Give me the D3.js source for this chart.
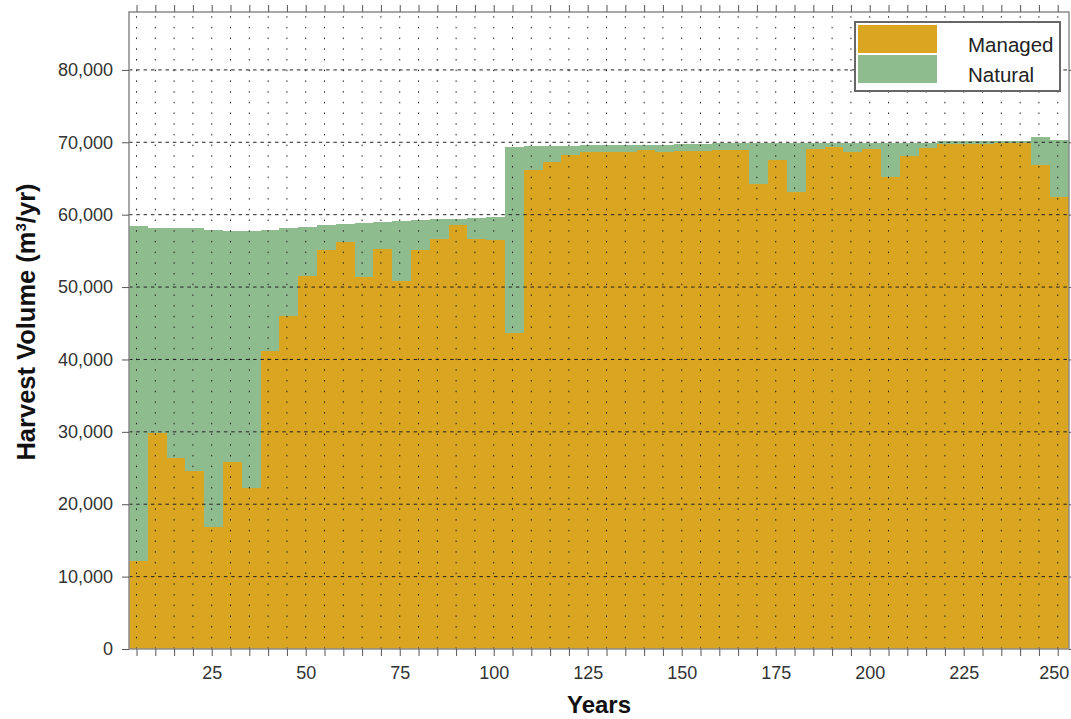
<!DOCTYPE html>
<html><head><meta charset="utf-8">
<script src="https://cdn.jsdelivr.net/npm/d3@7"></script>
<style>
body{margin:0;background:#fff}
svg{display:block}
text{font-family:"Liberation Sans",Arial,Helvetica,sans-serif}
</style>
</head><body>
<svg id="chart" width="1071" height="719"></svg>
<script>
// ---- data ----
const periodStart = [3,8,13,18,23,28,33,38,43,48,53,58,63,68,73,78,83,88,93,98,
  103,108,113,118,123,128,133,138,143,148,153,158,163,168,173,178,183,188,193,198,
  203,208,213,218,223,228,233,238,243,248];
const periodLength = 5;
const managed = [12100,29800,26400,24600,16900,25900,22200,41100,46000,51500,
  55100,56200,51400,55300,50900,55100,56700,58600,56700,56500,
  43600,66200,67300,68300,68600,68600,68700,68900,68700,68800,
  68800,68900,68900,64200,67500,63100,69100,69400,68700,69100,
  65200,68100,69200,69700,69800,69800,69900,69900,66800,62500];
const natural = [46300,28400,31700,33500,41000,31900,35600,16800,12200,6800,
  3450,2500,7500,3700,8200,4150,2650,800,2900,3200,
  25700,3250,2150,1200,1000,1000,900,750,950,1000,
  1000,950,950,5650,2350,6800,800,500,1200,800,
  4700,1850,750,500,400,400,300,300,3900,7850];
const seriesNames = ["Managed","Natural"];
const seriesColors = ["#DAA520","#8FBC8F"];
const yTickValues = [0,10000,20000,30000,40000,50000,60000,70000,80000];
const xTickLabels = [25,50,75,100,125,150,175,200,225,250];
const xDomain = [3,253];
const yDomain = [0,88000];

// ---- layout ----
const L = 129, R = 1069, T = 12, B = 649;
const svg = d3.select("#chart");
const x = d3.scaleLinear().domain(xDomain).range([L,R]);
const y = d3.scaleLinear().domain(yDomain).range([B,T]);
const color = d3.scaleOrdinal().domain(seriesNames).range(seriesColors);
const xMinor = d3.range(5, 251, 5);

const rows = periodStart.map((s,i)=>({start:s, Managed:managed[i], Natural:natural[i]}));
const stacked = d3.stack().keys(seriesNames)(rows);

// bars
svg.append("g").selectAll("g").data(stacked).join("g")
  .attr("fill", d=>color(d.key))
  .selectAll("rect").data(d=>d).join("rect")
  .attr("shape-rendering","crispEdges")
  .attr("x", d=>x(d.data.start))
  .attr("width", d=>x(d.data.start+periodLength)-x(d.data.start))
  .attr("y", d=>y(d[1]))
  .attr("height", d=>y(d[0])-y(d[1]));

// grid
const grid = svg.append("g");
grid.selectAll("line.v").data(xMinor).join("line").attr("class","v")
  .attr("x1",d=>x(d)).attr("x2",d=>x(d)).attr("y1",B).attr("y2",T)
  .attr("stroke","#222").attr("stroke-width",1).attr("stroke-dasharray","1.5,9.2");
grid.selectAll("line.h").data(yTickValues.filter(v=>v>0)).join("line").attr("class","h")
  .attr("x1",L).attr("x2",R).attr("y1",d=>y(d)).attr("y2",d=>y(d))
  .attr("stroke","#222").attr("stroke-width",1).attr("stroke-dasharray","3.5,3.8");

// frame
svg.append("rect").attr("x",L).attr("y",T).attr("width",R-L).attr("height",B-T)
  .attr("fill","none").attr("stroke","#8c8c8c").attr("stroke-width",1.5);

function styleAxis(g){
  g.select(".domain").remove();
  g.selectAll(".tick line").attr("stroke","#555");
  g.selectAll(".tick text").attr("fill","#333").style("font-size","18px");
}
const xAxisG = svg.append("g").attr("transform",`translate(0,${B})`)
  .call(d3.axisBottom(x).tickValues(xMinor).tickSize(7).tickPadding(10)
    .tickFormat(d=>xTickLabels.includes(d)?String(d):""))
  .call(styleAxis);
// keep the last label inside the picture
xAxisG.selectAll(".tick text").filter(d=>d===xTickLabels[xTickLabels.length-1]).attr("dx",-4);
svg.append("g").attr("transform",`translate(0,${T})`)
  .call(d3.axisTop(x).tickValues(xMinor).tickSize(7).tickFormat(""))
  .call(styleAxis);
svg.append("g").attr("transform",`translate(${L},0)`)
  .call(d3.axisLeft(y).tickValues(yTickValues).tickSize(7).tickPadding(9)
    .tickFormat(d3.format(",")))
  .call(styleAxis);
svg.append("g").attr("transform",`translate(${R},0)`)
  .call(d3.axisRight(y).tickValues(yTickValues).tickSize(7).tickFormat(""))
  .call(styleAxis);

// axis titles
svg.append("text").attr("x",(L+R)/2).attr("y",713).attr("text-anchor","middle")
  .style("font-size","24px").style("font-weight","bold").attr("fill","#111").text("Years");
const yt = svg.append("text").attr("transform",`translate(35,322) rotate(-90)`)
  .attr("text-anchor","middle").style("font-size","25.5px").style("font-weight","bold").attr("fill","#111");
yt.append("tspan").text("Harvest Volume (m");
yt.append("tspan").attr("dy",-9).style("font-size","15px").text("3");
yt.append("tspan").attr("dy",9).text("/yr)");

// legend
const lg = svg.append("g");
lg.append("rect").attr("x",855).attr("y",22).attr("width",205).attr("height",69)
  .attr("fill","#fff").attr("stroke","#666").attr("stroke-width",2);
seriesNames.forEach((n,i)=>{
  lg.append("rect").attr("x",858).attr("y",25+i*30).attr("width",79).attr("height",28)
    .attr("fill",color(n));
  lg.append("text").attr("x",968).attr("y",52+i*30).style("font-size","20.5px")
    .attr("fill","#222").text(n);
});
</script>
</body></html>
